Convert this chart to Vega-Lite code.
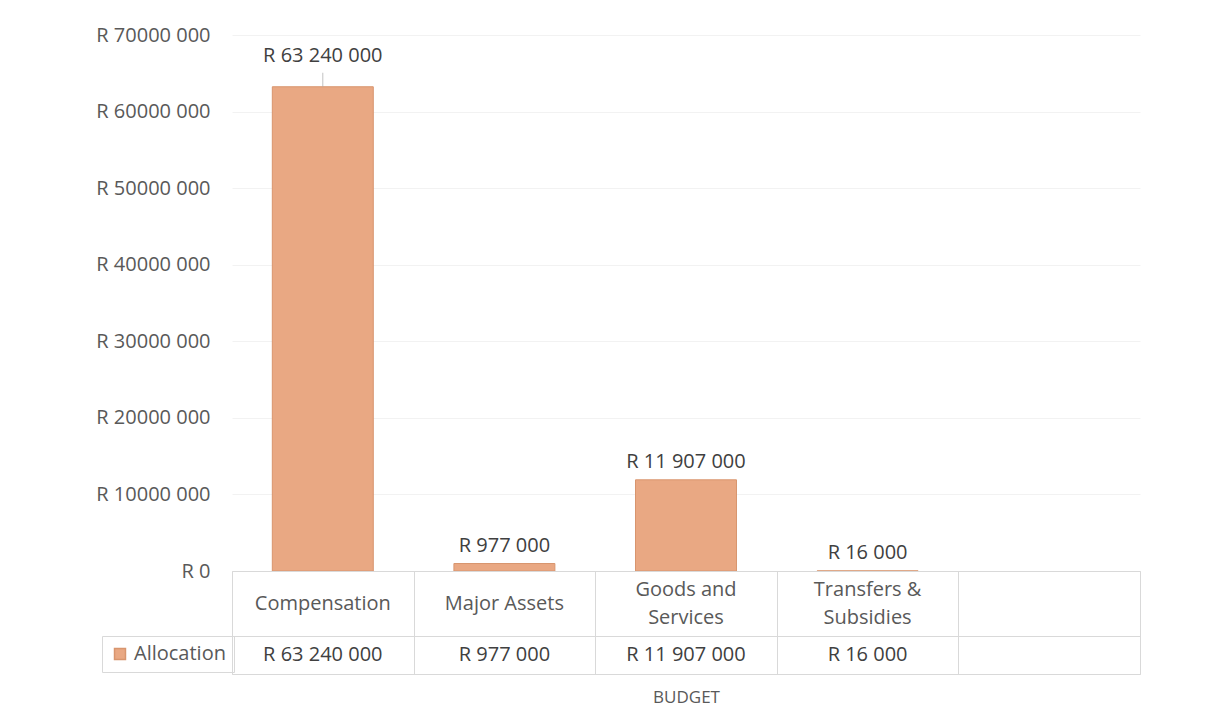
{
  "$schema": "https://vega.github.io/schema/vega-lite/v6.json",
  "background": "white",
  "padding": {"left": 95, "top": 25, "right": 5, "bottom": 0},
  "spacing": 0,
  "bounds": "flush",
  "config": {
    "font": "Open Sans",
    "view": {"stroke": null},
    "concat": {"spacing": 0}
  },
  "datasets": {
    "budget": [
      {"key": "c1", "category": "Compensation", "header": "Compensation", "allocation": 63240000, "label": "R 63 240 000", "series": "Allocation"},
      {"key": "c2", "category": "Major Assets", "header": "Major Assets", "allocation": 977000, "label": "R 977 000", "series": "Allocation"},
      {"key": "c3", "category": "Goods and Services", "header": "Goods and\nServices", "allocation": 11907000, "label": "R 11 907 000", "series": "Allocation"},
      {"key": "c4", "category": "Transfers & Subsidies", "header": "Transfers &\nSubsidies", "allocation": 16000, "label": "R 16 000", "series": "Allocation"},
      {"key": "c5", "category": "", "header": "", "allocation": null, "label": "", "series": "Allocation"}
    ]
  },
  "vconcat": [
    {
      "width": 908,
      "height": 536,
      "data": {"name": "budget"},
      "encoding": {
        "x": {
          "field": "key", "type": "nominal", "sort": null,
          "scale": {"domain": ["c1", "c2", "c3", "c4", "c5"], "paddingInner": 0.444, "paddingOuter": 0.222},
          "axis": null
        }
      },
      "layer": [
        {
          "mark": {"type": "bar", "stroke": "#d8956e", "strokeWidth": 1},
          "encoding": {
            "y": {
              "field": "allocation", "type": "quantitative",
              "scale": {"domain": [0, 70000000]},
              "axis": {
                "title": null,
                "values": [0, 10000000, 20000000, 30000000, 40000000, 50000000, 60000000, 70000000],
                "labelExpr": "datum.value == 0 ? 'R  0' : 'R ' + format(datum.value / 1000, 'd') + ' 000'",
                "labelFontSize": 20,
                "labelColor": "#595959",
                "labelPadding": 22,
                "ticks": false,
                "domain": false,
                "grid": true,
                "gridColor": "#f2f2f2"
              }
            },
            "color": {
              "field": "series", "type": "nominal",
              "scale": {"range": ["#E9A883"]},
              "legend": {
                "title": null,
                "orient": "none",
                "legendX": -130,
                "legendY": 601,
                "symbolType": "square",
                "symbolSize": 120,
                "labelFontSize": 20,
                "labelColor": "#595959",
                "labelOffset": 4,
                "padding": 8,
                "strokeColor": "#d9d9d9",
                "encode": {"symbols": {"update": {"fill": {"value": "#8c7b6b"}, "stroke": {"value": "#8c7b6b"}}}}
              }
            }
          }
        },
        {
          "transform": [{"filter": "datum.key == 'c1'"}],
          "mark": {"type": "tick", "orient": "vertical", "size": 14, "thickness": 1, "color": "#a6a6a6"},
          "encoding": {
            "y": {"field": "allocation", "type": "quantitative"},
            "yOffset": {"value": -7}
          }
        },
        {
          "transform": [{"filter": "datum.key == 'c1'"}],
          "mark": {"type": "text", "baseline": "bottom", "dy": -21, "fontSize": 20, "color": "#404040"},
          "encoding": {
            "y": {"field": "allocation", "type": "quantitative"},
            "text": {"field": "label"}
          }
        },
        {
          "transform": [{"filter": "datum.key != 'c1'"}],
          "mark": {"type": "text", "baseline": "bottom", "dy": -8, "fontSize": 20, "color": "#404040"},
          "encoding": {
            "y": {"field": "allocation", "type": "quantitative"},
            "text": {"field": "label"}
          }
        }
      ]
    },
    {
      "width": 908,
      "height": 65,
      "data": {"name": "budget"},
      "view": {"stroke": "#d9d9d9"},
      "encoding": {
        "x": {
          "field": "key", "type": "nominal", "sort": null,
          "scale": {"domain": ["c1", "c2", "c3", "c4", "c5"]},
          "axis": {"title": null, "orient": "top", "labels": false, "ticks": false, "domain": false, "grid": true, "tickBand": "extent", "gridColor": "#d9d9d9"}
        },
        "text": {"field": "header"}
      },
      "layer": [
        {
          "transform": [{"filter": "indexof(datum.header, '\\n') < 0"}],
          "mark": {"type": "text", "fontSize": 20, "color": "#595959"}
        },
        {
          "transform": [{"filter": "indexof(datum.header, '\\n') >= 0"}],
          "mark": {"type": "text", "lineBreak": "\n", "lineHeight": 28, "dy": -14, "fontSize": 20, "color": "#595959"}
        }
      ]
    },
    {
      "width": 908,
      "height": 38,
      "data": {"name": "budget"},
      "view": {"stroke": "#d9d9d9"},
      "mark": {"type": "text", "fontSize": 20, "color": "#404040"},
      "encoding": {
        "x": {
          "field": "key", "type": "nominal", "sort": null,
          "scale": {"domain": ["c1", "c2", "c3", "c4", "c5"]},
          "axis": {"title": "BUDGET", "titleFontSize": 17, "titleFontWeight": "normal", "titleColor": "#595959", "titlePadding": 15, "labels": false, "ticks": false, "domain": false, "grid": true, "tickBand": "extent", "gridColor": "#d9d9d9"}
        },
        "text": {"field": "label"}
      }
    }
  ]
}
